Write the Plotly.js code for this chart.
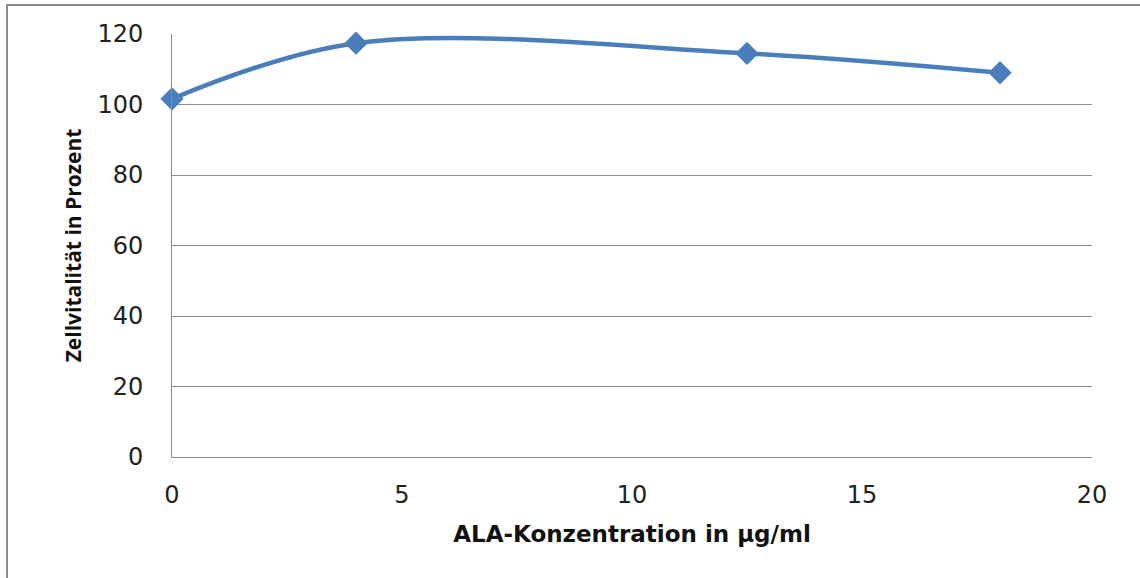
<!DOCTYPE html>
<html>
<head>
<meta charset="utf-8">
<script src="https://cdn.plot.ly/plotly-3.0.1.min.js"></script>
<style>
  html, body { margin: 0; padding: 0; background: #ffffff; }
  #wrap { position: relative; width: 1140px; height: 578px; overflow: hidden; }
  #chart { position: absolute; left: 0; top: 0; width: 1140px; height: 578px; }
  #frame { position: absolute; left: 6px; top: 4px; width: 1200px; height: 700px;
           border: 2px solid #8c8c8c; pointer-events: none; }
</style>
</head>
<body>
<div id="wrap">
  <div id="chart"></div>
  <div id="frame"></div>
</div>
<script>
const concentration = [0, 4, 12.5, 18];
const viability = [101.6, 117.4, 114.5, 109.0];
const xTitle = 'ALA-Konzentration in µg/ml';
const yTitle = 'Zellvitalität in Prozent';

const trace = {
  x: concentration,
  y: viability,
  type: 'scatter',
  mode: 'lines+markers',
  cliponaxis: false,
  line: { color: '#4a7ebb', width: 4.5, shape: 'spline', smoothing: 1 },
  marker: { symbol: 'diamond', size: 18, color: '#4a7ebb' },
  hoverinfo: 'x+y'
};

const layout = {
  width: 1140,
  height: 578,
  margin: { l: 172, r: 48, t: 34, b: 121 },
  paper_bgcolor: '#ffffff',
  plot_bgcolor: '#ffffff',
  showlegend: false,
  font: { family: 'DejaVu Sans, sans-serif', color: '#222222' },
  xaxis: {
    range: [0, 20],
    dtick: 5,
    tick0: 0,
    showgrid: false,
    zeroline: false,
    showline: true,
    linecolor: '#8c8c8c',
    linewidth: 1,
    ticks: '',
    ticklabelstandoff: 16,
    tickfont: { family: 'DejaVu Sans, sans-serif', size: 24, color: '#222222' },
    title: { text: xTitle, font: { family: 'DejaVu Sans, sans-serif', size: 23, color: '#111111', weight: 'bold' }, standoff: 18 }
  },
  yaxis: {
    range: [0, 120],
    dtick: 20,
    tick0: 0,
    showgrid: true,
    gridcolor: '#8c8c8c',
    gridwidth: 1,
    zeroline: false,
    showline: true,
    linecolor: '#8c8c8c',
    linewidth: 1,
    ticks: '',
    ticklabelstandoff: 23,
    tickfont: { family: 'DejaVu Sans, sans-serif', size: 24, color: '#222222' },
    title: { text: yTitle, font: { family: 'Open Sans, sans-serif', size: 21, color: '#111111', weight: 'bold' }, standoff: 10 }
  }
};

Plotly.newPlot('chart', [trace], layout, { displayModeBar: false, staticPlot: true });
</script>
</body>
</html>
